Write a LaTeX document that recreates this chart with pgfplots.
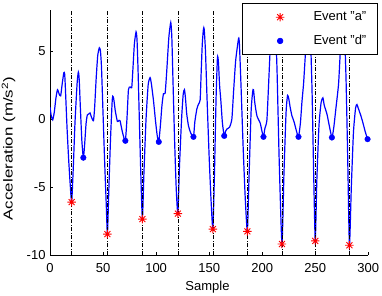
\documentclass[border=0pt]{standalone}
\usepackage{fontspec}
\setmainfont{Liberation Sans}
\newfontfamily\ylabfont{Liberation Sans}[FakeStretch=1.3]
\usepackage{pgfplots}
\pgfplotsset{compat=1.18}
\pgfdeclareplotmark{mstar}{%
  \pgfpathmoveto{\pgfqpoint{-\pgfplotmarksize}{0pt}}\pgfpathlineto{\pgfqpoint{\pgfplotmarksize}{0pt}}%
  \pgfpathmoveto{\pgfqpoint{0pt}{-\pgfplotmarksize}}\pgfpathlineto{\pgfqpoint{0pt}{\pgfplotmarksize}}%
  \pgfpathmoveto{\pgfqpoint{-0.7071\pgfplotmarksize}{-0.7071\pgfplotmarksize}}\pgfpathlineto{\pgfqpoint{0.7071\pgfplotmarksize}{0.7071\pgfplotmarksize}}%
  \pgfpathmoveto{\pgfqpoint{-0.7071\pgfplotmarksize}{0.7071\pgfplotmarksize}}\pgfpathlineto{\pgfqpoint{0.7071\pgfplotmarksize}{-0.7071\pgfplotmarksize}}%
  \pgfusepathqstroke}
\begin{document}
\fontsize{13}{15}\selectfont
\begin{tikzpicture}
\begin{axis}[
  scale only axis, width=318pt, height=245pt,
  xmin=0, xmax=300, ymin=-10, ymax=8,
  axis x line*=bottom, axis y line*=left,
  axis line style={black, line width=0.8pt},
  xtick={0,50,...,300}, ytick={-10,-5,0,5},
  tick align=inside, major tick length=3pt,
  tick style={black, line width=0.7pt},
  /pgf/number format/assume math mode=true,
  ticklabel style={font=\fontsize{13}{15}\selectfont},
  xticklabel style={anchor=north, inner sep=0pt, yshift=-7.6pt},
  yticklabel style={anchor=east, inner sep=0pt, xshift=-4.3pt},
  xlabel={Sample},
  xlabel style={at={(axis description cs:0.4947,0)}, anchor=base, yshift=-35pt, inner sep=0pt, font=\fontsize{13}{15}\selectfont},
  ylabel={\ylabfont Acceleration (m/s\textsuperscript{2})},
  ylabel style={at={(axis description cs:-0.1305,0.4347)}, anchor=center, inner sep=0pt, font=\fontsize{13}{15}\selectfont},
  legend style={at={(rel axis cs:1.0283,1.0273)}, anchor=north east, draw=black, line width=0.7pt, fill=white,
    inner xsep=0pt, inner ysep=1.7pt, row sep=0pt, column sep=0pt,
    nodes={inner sep=0pt, anchor=west}, font=\fontsize{13}{15}\selectfont},
  legend image code/.code={\path[draw=none, fill=none] (-37.6pt,-11.85pt) rectangle (33.4pt,11.85pt); \draw plot coordinates {(0pt,0pt)};},
  unbounded coords=jump,
]
\addplot[blue, line width=1.2pt, smooth, tension=0.35, forget plot] coordinates {
(0,0.86) (1,0.3) (2.5,-0.07) (4,0.5) (5.5,1.5) (7,2.15) (8.5,1.85) (10,1.7) (11.5,2.6) (13,3.4) (13.8,3.3) (14.5,2.2) (16,-0.6) (17.5,-2.9) (19,-4.8) (20.4,-6.1)
(22,-3.4) (23.5,-0.3) (25.5,2.6) (26.7,3.45) (27.5,2.9) (28.5,1.0) (30,-1.6) (31.4,-2.84) (32.5,-2.0) (34,-0.3) (35.2,0.3) (37,0.4) (37.7,0.45) (39,0.15) (40.9,-0.13) (42,0.8) (43.5,3.0) (45,4.7) (46.5,5.23) (47.5,5.0) (48.5,3.8) (50,0.3) (51.5,-3.2) (53,-6.3) (54.1,-8.45)
(55.5,-5) (57,-1.5) (58.5,1.2) (59.1,1.67) (60,1.5) (61.5,0.6) (63.5,-0.18) (65,-0.1) (66,-0.13) (67.5,-0.7) (69,-1.2) (71,-1.6) (72.5,0) (73.9,2.15) (75.5,2.35) (77,2.3) (78,3.5) (79.5,5.5) (81.1,6.4) (82,5.8) (83,3.5) (84.5,-1) (86,-5.2) (87.1,-7.35)
(88.5,-4) (90.5,0) (92.5,2.5) (94.3,3.04) (95.5,2.6) (97.5,1.36) (99.5,-0.2) (101,-1.2) (102.5,-1.68) (104,-0.5) (105.5,1.0) (106.9,1.85) (108.5,1.9) (110,3.5) (112,6.0) (113.8,7.08) (114.8,6.0) (116,2.5) (117.5,-1.8) (119,-5.2) (120.5,-6.95)
(122,-3.5) (124,0) (125.5,1.8) (126.7,2.15) (127.7,1.5) (128.8,0.4) (130.5,-0.5) (132.5,-1.0) (135.2,-1.31) (136.5,-0.2) (138.4,0.74) (140,1.1) (141.5,1.41) (142.5,3.5) (143.5,5.5) (144.6,6.6) (145.3,6.6) (146.5,5.0) (148,1.5) (150,-2.8) (151.8,-6) (153.5,-8.08)
(155,-4) (156.5,1.5) (157.8,4.5) (158.7,4.2) (159.8,2.5) (161,1.36) (162.5,-0.3) (164.2,-1.24) (165.5,-0.9) (166.7,-0.74) (169.2,-0.6) (171.4,0) (173,2) (175,4.3) (177.7,5.9) (178.5,5.5) (180,2.5) (182,-2) (184,-5.8) (186,-8.25)
(187.5,-4.5) (189.5,0.5) (191,2) (191.8,2.15) (193,1.2) (195,0.24) (198.1,-0.3) (199.5,-0.8) (201.2,-1.31) (202.5,-0.7) (204.4,-0.1) (206,2.5) (207.5,5.06) (209.5,7.0) (211,7.6) (212.5,6.8) (214,3.5) (216,-3) (218.6,-9.18)
(220.5,-4) (222.5,0.5) (223.9,1.73) (225,1.5) (226.5,0.8) (228,0.24) (230,-0.2) (232,-0.8) (234.2,-1.31) (236,-0.3) (237.5,1.3) (239,2.6) (240.5,4.5) (242,6.3) (244,7.2) (245.5,6) (247,2) (248.5,-4) (250,-8.95)
(251.5,-4.5) (253.5,-0.5) (255.5,1.2) (257.2,1.55) (258.5,1.0) (261,0.37) (263,-0.4) (265.7,-1.36) (267.5,-0.6) (269.5,0.8) (272,2.6) (274,5.5) (276,7.2) (277.5,6.5) (279,3) (280.5,-2.5) (282.2,-9.27)
(284,-5) (286,-1) (288,0.8) (289.3,1.06) (290.5,0.8) (293,0.24) (295,-0.3) (297,-0.9) (299.3,-1.48)
};
\addplot[only marks, mark=mstar, mark size=4.2pt, red, mark options={line width=0.9pt}] coordinates {
(20.4,-6.1) (54.1,-8.45) (87.1,-7.35) (120.5,-6.95) (153.5,-8.08) (186,-8.25) (218.6,-9.18) (250,-8.95) (282.2,-9.27)
};
\addlegendentry{Event "a"\hspace*{10.6pt}}
\addplot[only marks, mark=*, mark size=2.8pt, blue, mark options={fill=blue}] coordinates {
(31.4,-2.84) (71,-1.6) (102.5,-1.68) (135.2,-1.31) (164.2,-1.24) (201.2,-1.31) (234.2,-1.31) (265.7,-1.36) (299.3,-1.48)
};
\addlegendentry{Event "d"\hspace*{10.6pt}}
\addplot[black, line width=0.7pt, dash pattern=on 4pt off 1.5pt on 1pt off 1.5pt, forget plot] coordinates {
(20.4,-10) (20.4,8) (20.4,nan)
(54.1,-10) (54.1,8) (54.1,nan)
(87.1,-10) (87.1,8) (87.1,nan)
(120.5,-10) (120.5,8) (120.5,nan)
(153.5,-10) (153.5,8) (153.5,nan)
(186,-10) (186,8) (186,nan)
(218.6,-10) (218.6,8) (218.6,nan)
(250,-10) (250,8) (250,nan)
(282.2,-10) (282.2,8)
};
\end{axis}
\path (current axis.south west) ++(-50pt,-40pt) coordinate (BBA);
\path (current axis.north east) ++(13.7pt,10pt) coordinate (BBB);
\pgfresetboundingbox
\useasboundingbox (BBA) rectangle (BBB);
\end{tikzpicture}
\end{document}
